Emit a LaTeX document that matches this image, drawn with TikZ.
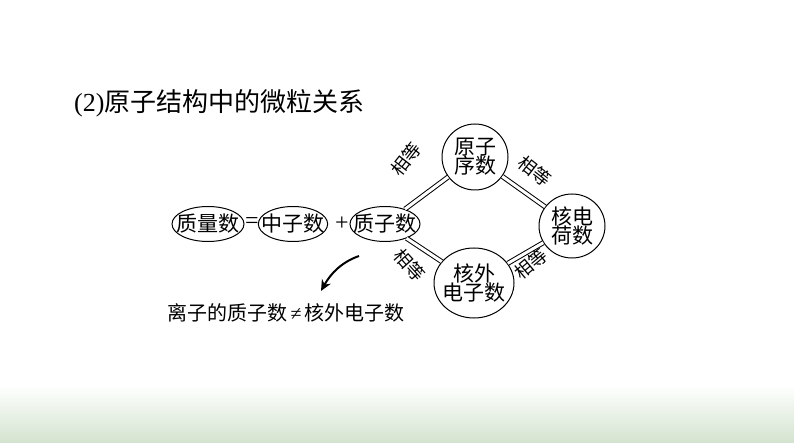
\documentclass[tikz,border=0pt]{standalone}
\usepackage{fontspec}
\setmainfont{Liberation Serif}
\newfontfamily\cjk{Noto Sans CJK SC}
\usetikzlibrary{shapes.geometric,arrows.meta}
\definecolor{bandgreen}{HTML}{D3E3CE}
\begin{document}
\begin{tikzpicture}[x=1pt,y=-1pt,
  oval/.style={draw,ellipse,line width=1pt,inner ysep=0pt,inner xsep=-7pt,font=\cjk\fontsize{21}{23}\selectfont,align=center},
  dbl/.style={double,double distance=3pt,line width=1pt},
  lab/.style={font=\cjk\fontsize{18}{19}\selectfont,inner sep=0pt},
  opsym/.style={font=\fontsize{24}{26}\selectfont,inner sep=0pt}]
\useasboundingbox (0,0) rectangle (794,443);
\fill[white] (0,0) rectangle (794,443);
\shade[top color=white,bottom color=bandgreen] (0,385) rectangle (794,443);
\node[anchor=west,inner sep=0pt] (title) at (74,103) {\fontsize{26}{28}\selectfont (2)\cjk 原子结构中的微粒关系};
\node[oval,minimum width=72,minimum height=35] (zl) at (208,224) {质量数};
\node[opsym] (eq) at (252,223) {=};
\node[oval,minimum width=68,minimum height=35] (zz) at (293,224) {中子数};
\node[opsym] (pl) at (342,224) {+};
\node[oval,minimum width=70,minimum height=35] (zhi) at (385,224) {质子数};
\node[oval,inner xsep=0pt,minimum width=66,minimum height=66] (yx) at (475,157) {原子\\[-4pt]序数};
\node[oval,inner xsep=0pt,minimum width=66,minimum height=64] (hd) at (572,226) {核电\\[-4pt]荷数};
\node[oval,inner xsep=-5pt,minimum width=80,minimum height=70] (hw) at (474,283) {核外\\[-4pt]电子数};
\draw[dbl] (zhi) -- (yx);
\draw[dbl] (yx) -- (hd);
\draw[dbl] (zhi) -- (hw);
\draw[dbl] (hw) -- (hd);
\node[lab,rotate=52] (l1) at (406,159) {相等};
\node[lab,rotate=-38] (l2) at (535,171) {相等};
\node[lab,rotate=-48] (l3) at (410,265) {相等};
\node[lab,rotate=40] (l4) at (531,264) {相等};
\node[inner sep=0pt] (ion) at (286,313) {\cjk\fontsize{20}{22}\selectfont 离子的质子数\,{\rmfamily ≠}\,核外电子数};
\coordinate (as) at (359,256);
\coordinate (ae) at (321,291);
\draw[line width=2pt,-{Stealth[length=11pt,width=10pt]}] (as) .. controls (342,262) and (331,273) .. (ae);
\end{tikzpicture}
\end{document}
